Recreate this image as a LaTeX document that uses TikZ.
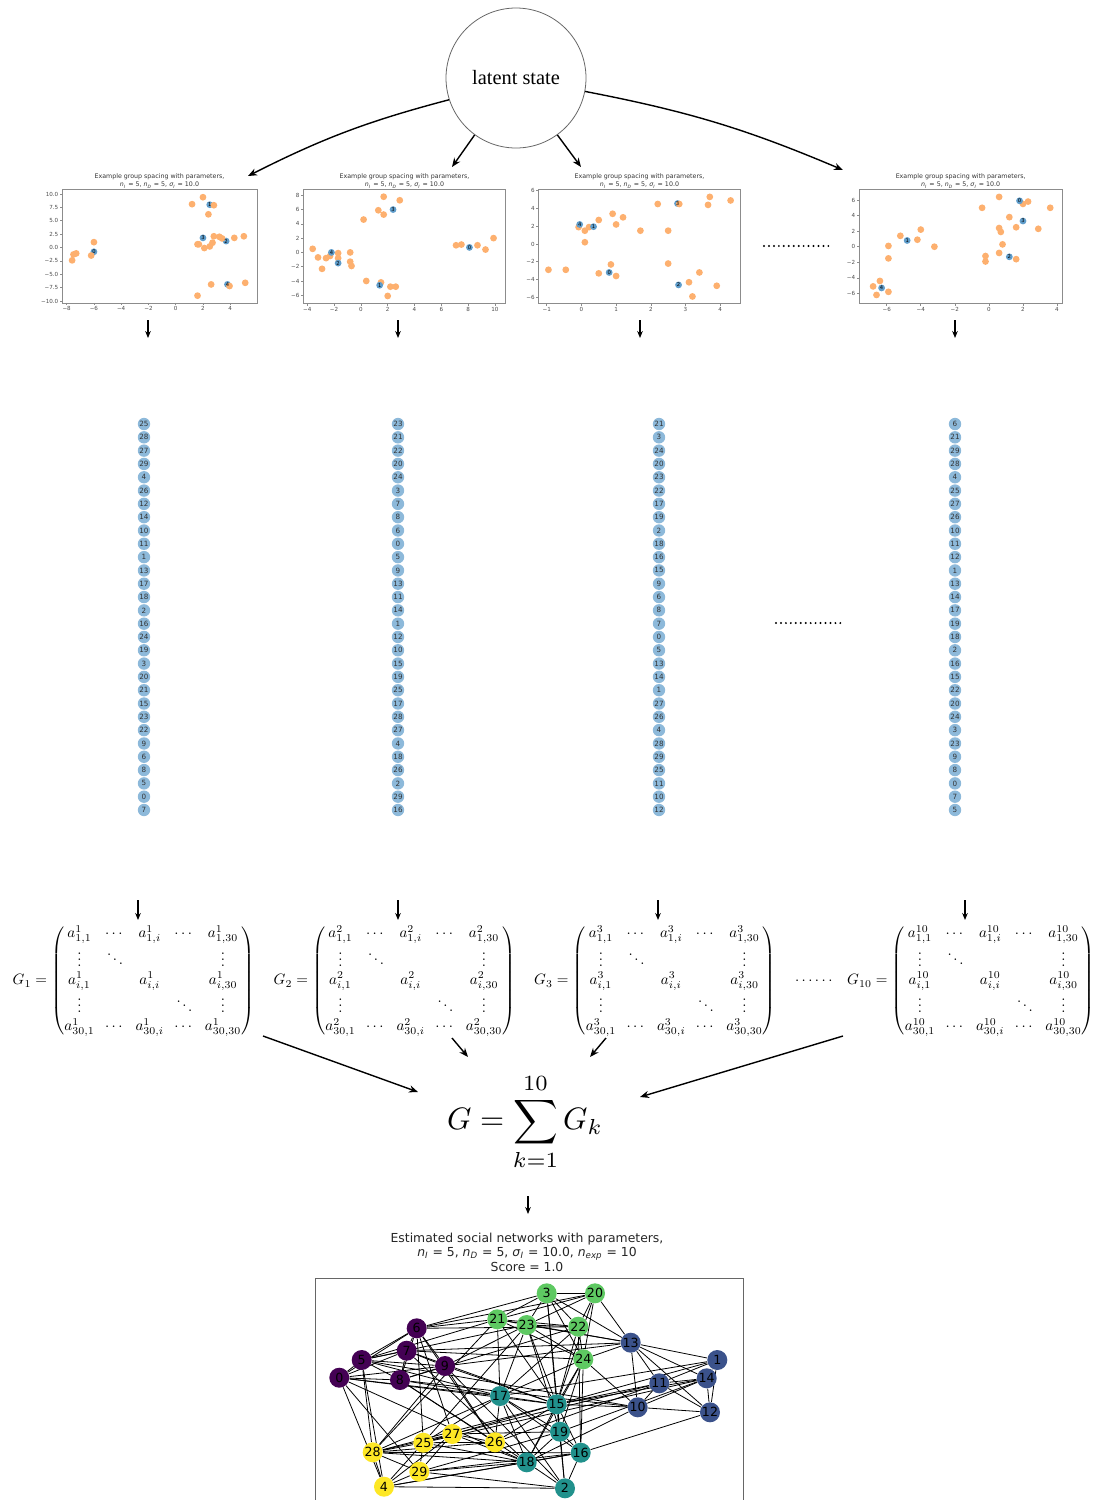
\documentclass[tikz,border=0pt]{standalone}
\usepackage{fontspec}
\usepackage{amsmath}
\usetikzlibrary{arrows.meta,calc,backgrounds}
\newfontfamily\dvs{DejaVu Sans}
\newfontfamily\lser{Liberation Serif}
\definecolor{scor}{HTML}{FDB06F}
\definecolor{scbl}{HTML}{5F9DCB}
\definecolor{colc}{HTML}{8DB9DA}
\definecolor{vpur}{HTML}{440154}
\definecolor{vblu}{HTML}{3B528B}
\definecolor{vtea}{HTML}{21918C}
\definecolor{vgrn}{HTML}{5EC962}
\definecolor{vyel}{HTML}{FDE725}
\newcommand\mtsub[2]{\textit{#1}\textsubscript{\textit{#2}}}
\newcommand\gmat[2]{\scalebox{0.75}{\setlength\arraycolsep{3.5pt}$G_{#1}=\begin{pmatrix}
a^{#2}_{1,1} & \cdots & a^{#2}_{1,i} & \cdots & a^{#2}_{1,30}\\
\vdots & \ddots & & & \vdots\\
a^{#2}_{i,1} & & a^{#2}_{i,i} & & a^{#2}_{i,30}\\
\vdots & & & \ddots & \vdots\\
a^{#2}_{30,1} & \cdots & a^{#2}_{30,i} & \cdots & a^{#2}_{30,30}
\end{pmatrix}$}}
\newcommand\ptitle{Example group spacing with parameters,\\ \mtsub{n}{I} = 5, \mtsub{n}{D} = 5, \mtsub{σ}{I} = 10.0}
\tikzset{
  arr/.style={-{Stealth[length=4.5pt,width=3.6pt]}, line width=0.7pt},
  sarr/.style={-{Stealth[length=3.5pt,width=2.8pt]}, line width=0.55pt},
  axc/.style={draw=black!45, line width=0.3pt},
  tkl/.style={font=\dvs\fontsize{2.8}{3}\selectfont, text=black!70, inner sep=0.3pt},
  ttl/.style={font=\dvs\fontsize{3.15}{4}\selectfont, text=black!80, align=center, inner sep=0pt},
  bl/.style={font=\dvs\fontsize{2.6}{3}\selectfont, text=black, inner sep=0pt},
  numc/.style={circle, fill=colc, inner sep=0pt, minimum size=6.2pt, font=\dvs\fontsize{3.6}{4}\selectfont, text=black!80},
  nn/.style={circle, inner sep=0pt, minimum size=10pt, font=\dvs\fontsize{6.3}{7}\selectfont, text=black},
  edge/.style={line width=0.4pt, black}
}
\begin{document}
\begin{tikzpicture}[x=0.5pt,y=-0.5pt]
\useasboundingbox (0,0) rectangle (1099,1500);

% latent state
\node[circle, draw=black!60, line width=0.4pt, minimum size=70pt, inner sep=0pt, font=\lser\fontsize{10.2}{12}\selectfont] (latent) at (516,78) {latent state};
\coordinate (t1) at (248,176);
\coordinate (t2) at (452,167);
\coordinate (t3) at (581,167);
\coordinate (t4) at (843,170);
\draw[arr] (latent.198) to[bend right=6] (t1);
\draw[arr] (latent.234) -- (t2);
\draw[arr] (latent.306) -- (t3);
\draw[arr] (latent.349) to[bend left=6] (t4);

% plot titles
\node[ttl] (ti1) at (159.5,181) {\ptitle};
\node[ttl] (ti2) at (404.5,181) {\ptitle};
\node[ttl] (ti3) at (639.5,181) {\ptitle};
\node[ttl] (ti4) at (960.7,181) {\ptitle};

% ---------- plot 1
\begin{scope}[shift={(87.85pt,-123.75pt)},x=6.815pt,y=2.675pt]
 \draw[axc] (-8.34,-10.37) rectangle (5.96,10.93);
 \foreach \v/\s in {-8/−8,-6/−6,-4/−4,-2/−2,0/0,2/2,4/4}
   {\draw[axc] (\v,-10.37) -- ++(0pt,-1.2pt); \node[tkl,anchor=north] (tk) at ([yshift=-1.4pt]\v,-10.37) {\s};}
 \foreach \v/\s in {10/10.0,7.5/7.5,5/5.0,2.5/2.5,0/0.0,-2.5/−2.5,-5/−5.0,-7.5/−7.5,-10/−10.0}
   {\draw[axc] (-8.34,\v) -- ++(-1.2pt,0pt); \node[tkl,anchor=east] (tk) at ([xshift=-1.4pt]-8.34,\v) {\s};}
 \foreach \a/\b in {2.5/8.0,-6/-0.8,2.0/1.8,3.7/1.2,3.8/-6.9} \fill[scbl] (\a,\b) circle (1.7pt);
 \foreach \a/\b in {1.2/8.1,2.0/9.4,2.8/7.9,2.4/6.2,-6/1.0,-7.3/-1.1,-7.5/-1.3,-7.6/-2.4,-6.2/-1.5,1.7/0.6,1.6/0.6,2.1/-0.1,2.5/0.2,2.7/0.9,2.8/2.1,3.2/2.0,3.4/1.7,4.3/1.8,5.0/2.1,1.6/-9.0,2.6/-6.9,3.95/-7.2,5.1/-6.6}
   \fill[scor] (\a,\b) circle (1.7pt);
 \foreach \a/\b/\l in {2.5/8.0/1,-6/-0.8/0,2.0/1.8/3,3.7/1.2/2,3.8/-6.9/4} \node[bl] (pl) at (\a,\b) {\l};
\end{scope}

% ---------- plot 2
\begin{scope}[shift={(180.45pt,-126.2pt)},x=6.7pt,y=3.57pt]
 \draw[axc] (-4.30,-7.13) rectangle (10.81,8.84);
 \foreach \v/\s in {-4/−4,-2/−2,0/0,2/2,4/4,6/6,8/8,10/10}
   {\draw[axc] (\v,-7.13) -- ++(0pt,-1.2pt); \node[tkl,anchor=north] (tk) at ([yshift=-1.4pt]\v,-7.13) {\s};}
 \foreach \v/\s in {8/8,6/6,4/4,2/2,0/0,-2/−2,-4/−4,-6/−6}
   {\draw[axc] (-4.30,\v) -- ++(-1.2pt,0pt); \node[tkl,anchor=east] (tk) at ([xshift=-1.4pt]-4.30,\v) {\s};}
 \foreach \a/\b in {1.7/7.8,2.9/7.3,1.3/5.9,1.7/5.3,0.2/4.6,-3.6/0.5,-3.2/-0.7,-2.6/-0.8,-2.3/-0.5,-1.7/-0.1,-1.7/-0.8,-0.8/0,-0.8/-1.3,-0.7/-1.9,-2.9/-2.3,0.4/-4.0,1.5/-4.2,2.2/-4.8,2.6/-4.8,2.0/-6.1,7.1/1.0,7.5/1.1,8.7/1.0,9.3/0.4,9.9/2.0}
   \fill[scor] (\a,\b) circle (1.7pt);
 \foreach \a/\b/\l in {2.4/6.0/3,-2.2/0.0/4,-1.7/-1.5/2,1.4/-4.6/1,8.1/0.7/0}
   {\fill[scbl] (\a,\b) circle (1.7pt); \node[bl] (pl) at (\a,\b) {\l};}
\end{scope}

% ---------- plot 3
\begin{scope}[shift={(290.7pt,-122pt)},x=17.35pt,y=4.445pt]
 \draw[axc] (-1.24,-6.67) rectangle (4.59,6.15);
 \foreach \v/\s in {-1/−1,0/0,1/1,2/2,3/3,4/4}
   {\draw[axc] (\v,-6.67) -- ++(0pt,-1.2pt); \node[tkl,anchor=north] (tk) at ([yshift=-1.4pt]\v,-6.67) {\s};}
 \foreach \v/\s in {6/6,4/4,2/2,0/0,-2/−2,-4/−4,-6/−6}
   {\draw[axc] (-1.24,\v) -- ++(-1.2pt,0pt); \node[tkl,anchor=east] (tk) at ([xshift=-1.4pt]-1.24,\v) {\s};}
 \fill[scbl] (2.77,4.55) circle (1.7pt);
 \foreach \a/\b in {2.82/4.5,2.2/4.5,3.7/5.3,3.65/4.4,4.3/4.9,0.9/3.4,1.2/3.0,0.5/2.7,1.0/2.2,0.1/1.5,-0.08/1.9,0.22/1.9,0.1/0.2,1.7/1.5,2.5/1.5,-0.95/-2.9,-0.45/-2.9,0.5/-3.3,0.85/-2.3,1.0/-3.6,2.5/-2.2,3.1/-4.3,3.4/-3.2,3.2/-5.9,3.9/-4.7}
   \fill[scor] (\a,\b) circle (1.7pt);
 \node[bl] (pl) at (2.77,4.55) {3};
 \foreach \a/\b/\l in {-0.05/2.2/4,0.35/1.95/1,0.8/-3.2/0,2.8/-4.6/2}
   {\fill[scbl] (\a,\b) circle (1.7pt); \node[bl] (pl) at (\a,\b) {\l};}
\end{scope}

% ---------- plot 4
\begin{scope}[shift={(494.45pt,-123.35pt)},x=8.515pt,y=3.89pt]
 \draw[axc] (-7.63,-7.28) rectangle (4.31,7.38);
 \foreach \v/\s in {-6/−6,-4/−4,-2/−2,0/0,2/2,4/4}
   {\draw[axc] (\v,-7.28) -- ++(0pt,-1.2pt); \node[tkl,anchor=north] (tk) at ([yshift=-1.4pt]\v,-7.28) {\s};}
 \foreach \v/\s in {6/6,4/4,2/2,0/0,-2/−2,-4/−4,-6/−6}
   {\draw[axc] (-7.63,\v) -- ++(-1.2pt,0pt); \node[tkl,anchor=east] (tk) at ([xshift=-1.4pt]-7.63,\v) {\s};}
 \foreach \a/\b in {0.6/6.4,-0.4/5.0,2.0/5.5,2.3/5.8,3.6/5.0,1.2/3.8,0.6/2.4,0.7/1.9,1.6/2.5,2.9/2.3,0.8/0.3,-0.2/-1.2,-0.2/-1.9,0.6/-0.8,1.6/-1.6,-5.2/1.4,-4.2/0.9,-4.0/2.2,-3.2/0.0,-5.9/0.1,-5.9/-1.5,-6.8/-5.1,-6.4/-4.4,-6.6/-6.2,-5.9/-5.8}
   \fill[scor] (\a,\b) circle (1.7pt);
 \foreach \a/\b/\l in {1.8/5.9/0,2.0/3.3/3,1.2/-1.3/2,-4.8/0.8/1,-6.3/-5.3/4}
   {\fill[scbl] (\a,\b) circle (1.7pt); \node[bl] (pl) at (\a,\b) {\l};}
\end{scope}

% dotted separators
\foreach \k in {0,...,13} \fill (764+\k*4.95,246) circle (0.55pt);
\foreach \k in {0,...,13} \fill (776+\k*4.95,623) circle (0.55pt);

% arrows under plots
\foreach \n/\xx in {1/148,2/398,3/640,4/955} {
  \coordinate (pa\n) at (\xx,320);
  \coordinate (pb\n) at (\xx,338);
  \draw[sarr] (pa\n) -- (pb\n);
}

% columns
\foreach \v [count=\i from 0] in {25,28,27,29,4,26,12,14,10,11,1,13,17,18,2,16,24,19,3,20,21,15,23,22,9,6,8,5,0,7}
  \node[numc] (ca\i) at (144,424+13.31*\i) {\v};
\foreach \v [count=\i from 0] in {23,21,22,20,24,3,7,8,6,0,5,9,13,11,14,1,12,10,15,19,25,17,28,27,4,18,26,2,29,16}
  \node[numc] (cb\i) at (398,424+13.31*\i) {\v};
\foreach \v [count=\i from 0] in {21,3,24,20,23,22,17,19,2,18,16,15,9,6,8,7,0,5,13,14,1,27,26,4,28,29,25,11,10,12}
  \node[numc] (cc\i) at (659,424+13.31*\i) {\v};
\foreach \v [count=\i from 0] in {6,21,29,28,4,25,27,26,10,11,12,1,13,14,17,19,18,2,16,15,22,20,24,3,23,9,8,0,7,5}
  \node[numc] (cd\i) at (955,424+13.31*\i) {\v};

% arrows above matrices
\foreach \n/\xx in {1/138,2/398,3/658,4/965} {
  \coordinate (ma\n) at (\xx,900);
  \coordinate (mb\n) at (\xx,920);
  \draw[sarr] (ma\n) -- (mb\n);
}

% matrices
\node[inner sep=0pt] (m1) at (133.5,981) {\gmat{1}{1}};
\node[inner sep=0pt] (m2) at (394.5,981) {\gmat{2}{2}};
\node[inner sep=0pt] (m3) at (655,981) {\gmat{3}{3}};
\node[inner sep=0pt] (mdots) at (815,981) {\scalebox{0.75}{$\cdots\cdots$}};
\node[inner sep=0pt] (m10) at (971,981) {\gmat{10}{10}};

% sum
\node[inner sep=0pt] (sum) at (525,1122) {\scalebox{1.55}{$\displaystyle G=\sum_{k=1}^{10}G_k$}};
\coordinate (s1a) at (263,1036); \coordinate (s1b) at (418,1092);
\coordinate (s2a) at (452,1038); \coordinate (s2b) at (468,1057);
\coordinate (s3a) at (606,1038); \coordinate (s3b) at (590,1057);
\coordinate (s4a) at (843,1036); \coordinate (s4b) at (640,1097);
\draw[arr] (s1a) -- (s1b);
\draw[arr] (s2a) -- (s2b);
\draw[arr] (s3a) -- (s3b);
\draw[arr] (s4a) -- (s4b);
\coordinate (sd1) at (528,1196); \coordinate (sd2) at (528,1214);
\draw[sarr] (sd1) -- (sd2);

% network title
\node[font=\dvs\fontsize{6.2}{7.3}\selectfont, align=center, text=black!85, inner sep=0pt] (ntitle) at (527,1252)
 {Estimated social networks with parameters,\\ \mtsub{n}{I} = 5, \mtsub{n}{D} = 5, \mtsub{σ}{I} = 10.0, \mtsub{n}{exp} = 10\\ Score = 1.0};
\coordinate (fa) at (315,1500); \coordinate (fb) at (315,1278);
\coordinate (fc) at (743,1278); \coordinate (fd) at (743,1500);
\draw[black!60, line width=0.5pt] (fa) -- (fb) -- (fc) -- (fd);

% network nodes
\foreach \n/\xx/\yy in {0/339.3/1377.7,5/361.7/1360,6/416.7/1328.3,7/406.7/1350.7,8/400/1380,9/445/1366}
  \node[nn, fill=vpur] (n\n) at (\xx,\yy) {\n};
\foreach \n/\xx/\yy in {1/717.3/1360,10/637.7/1407.3,11/659.3/1383.3,12/710/1412.3,13/630.7/1342.7,14/706.7/1378.3}
  \node[nn, fill=vblu] (n\n) at (\xx,\yy) {\n};
\foreach \n/\xx/\yy in {2/565/1488.3,15/556.7/1404.3,16/580.7/1452.7,17/500/1396,18/526.7/1462.3,19/560/1431.7}
  \node[nn, fill=vtea] (n\n) at (\xx,\yy) {\n};
\foreach \n/\xx/\yy in {3/546.7/1293.3,20/595/1293.3,21/497.3/1319.3,22/578.3/1326.7,23/526.7/1325,24/583.3/1359.3}
  \node[nn, fill=vgrn] (n\n) at (\xx,\yy) {\n};
\foreach \n/\xx/\yy in {4/384/1486.7,25/423.3/1442.7,26/495/1442.3,27/452.3/1434,28/372.7/1452.3,29/419.3/1471.7}
  \node[nn, fill=vyel] (n\n) at (\xx,\yy) {\n};

\begin{scope}[on background layer]
\foreach \a/\b in {0/5,0/6,0/7,0/8,0/9,0/17,0/4,0/29,0/18,0/15,
 5/6,5/7,5/8,5/9,5/21,5/23,5/17,5/28,5/4,5/10,
 6/7,6/8,6/9,6/21,6/3,6/20,6/22,6/25,6/26,6/27,
 7/8,7/9,7/13,7/15,7/18,7/24,
 8/9,8/17,8/10,8/18,8/26,8/22,
 9/15,9/2,9/28,9/23,9/13,9/26,
 3/20,3/21,3/23,3/22,3/24,3/15,3/13,3/19,
 20/21,20/23,20/22,20/24,20/13,20/15,
 21/17,21/15,21/24,21/22,21/28,21/13,21/23,
 23/24,23/15,23/17,23/19,23/13,23/25,23/22,
 22/24,22/15,22/16,22/17,
 24/13,24/16,24/15,24/19,24/18,24/10,24/17,
 13/1,13/14,13/11,13/12,13/10,
 1/14,1/12,1/11,1/15,1/17,
 14/12,14/11,14/10,14/15,14/19,14/25,
 11/10,11/12,11/15,11/27,11/26,
 10/12,10/18,10/15,12/16,
 17/15,17/19,17/26,17/18,17/2,17/28,17/16,17/25,
 15/19,15/16,15/18,15/2,15/28,15/25,15/26,
 19/18,19/16,19/2,19/27,19/29,
 16/18,16/2,16/28,
 18/2,18/28,18/29,18/4,18/25,18/27,
 2/4,2/29,
 28/25,28/27,28/29,28/4,26/28,
 25/27,25/29,25/4,25/26,
 27/29,27/4,27/26,
 29/4,29/16,4/16}
  \draw[edge] (n\a) -- (n\b);
\end{scope}
\end{tikzpicture}
\end{document}
